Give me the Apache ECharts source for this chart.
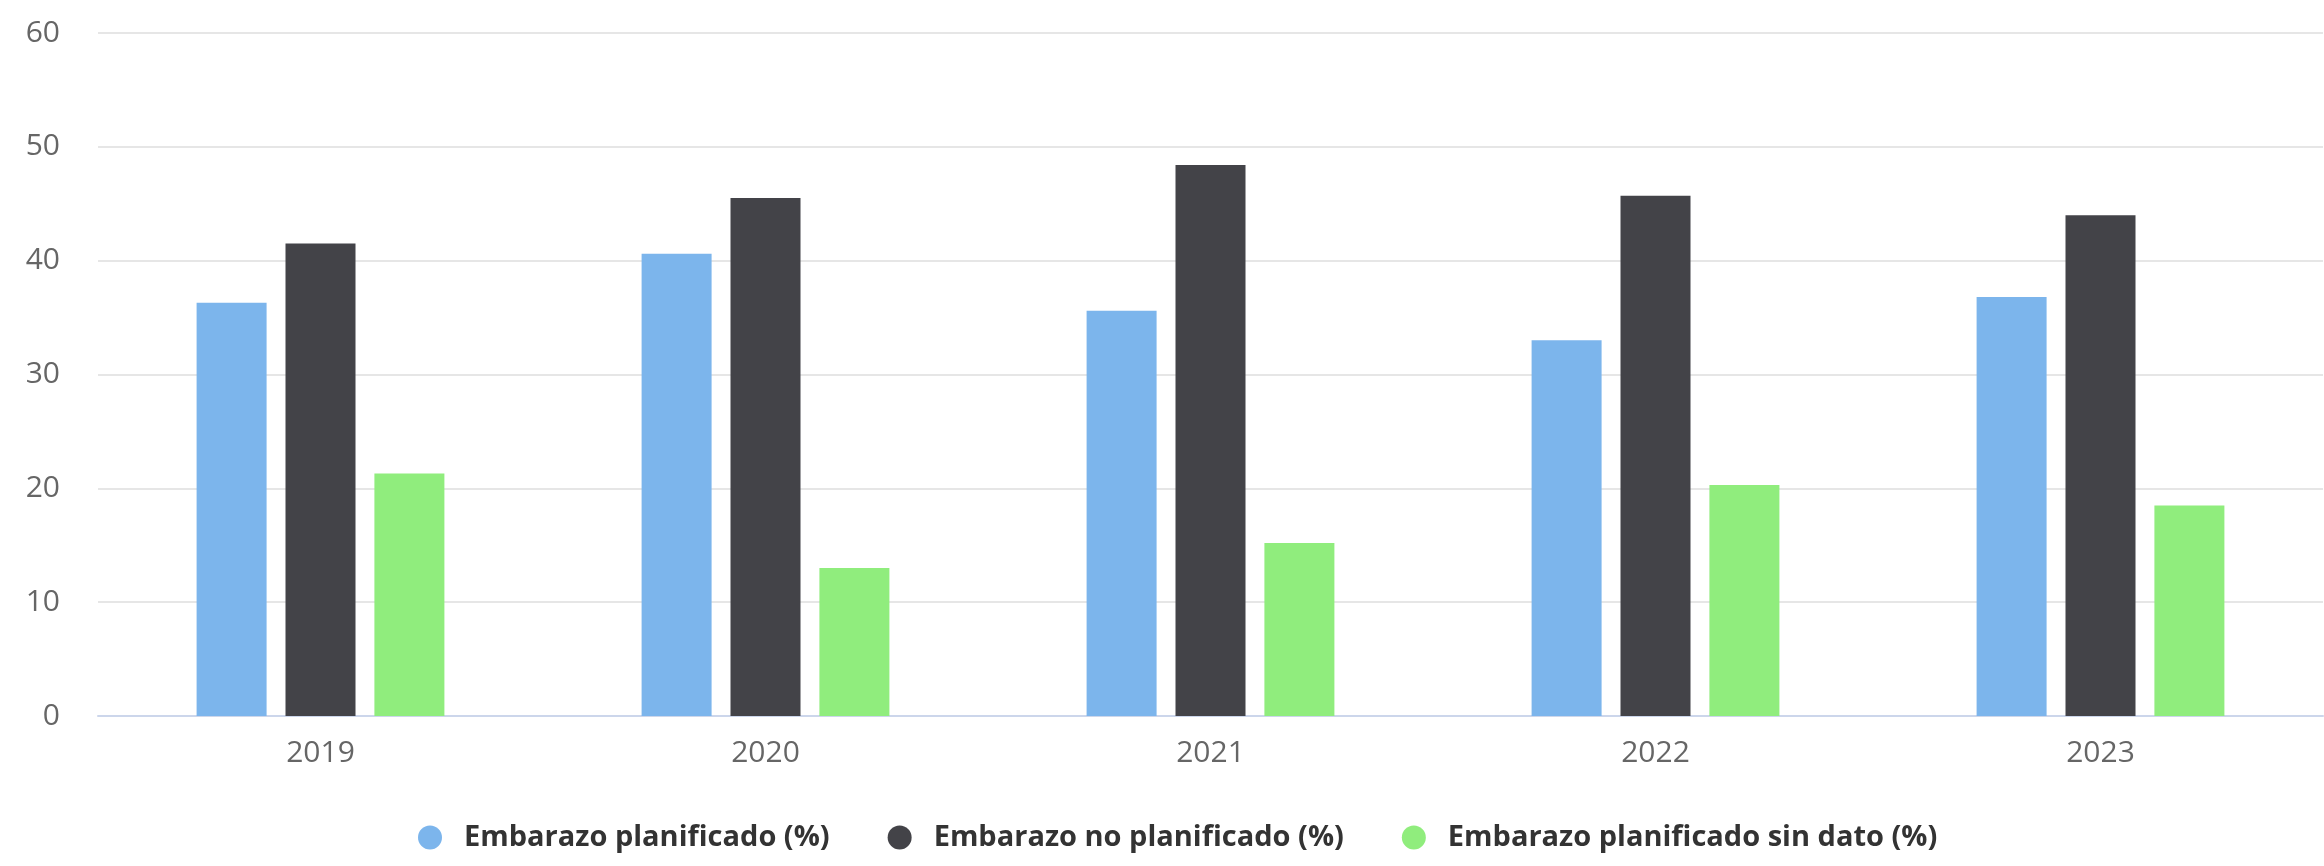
<!DOCTYPE html>
<html>
<head>
<meta charset="utf-8">
<script src="https://cdn.jsdelivr.net/npm/echarts@6/dist/echarts.min.js"></script>
<style>
html,body{margin:0;padding:0;background:#fff;}
#chart{width:2324px;height:866px;}
</style>
</head>
<body>
<div id="chart"></div>
<script>
const categories = ['2019', '2020', '2021', '2022', '2023'];
const seriesNames = ['Embarazo planificado (%)', 'Embarazo no planificado (%)', 'Embarazo planificado sin dato (%)'];
const planificado = [36.3, 40.6, 35.6, 33.0, 36.8];
const noPlanificado = [41.5, 45.5, 48.4, 45.7, 44.0];
const sinDato = [21.3, 13.0, 15.2, 20.3, 18.5];
const yTicks = { min: 0, max: 60, interval: 10 };
const colors = ['#7cb5ec', '#434348', '#90ed7d'];

const chart = echarts.init(document.getElementById('chart'));
const values = [planificado, noPlanificado, sinDato];
chart.setOption({
  animation: false,
  backgroundColor: '#ffffff',
  textStyle: { fontFamily: 'Open Sans' },
  grid: { left: 98, right: 1, top: 33, bottom: 150, containLabel: false },
  legend: {
    bottom: 9,
    left: 413,
    icon: 'circle',
    itemWidth: 24,
    itemHeight: 24,
    itemGap: 58,
    textStyle: { fontFamily: 'Open Sans', fontSize: 29, fontWeight: 'bold', color: '#333333', padding: [0, 0, 0, 17] },
    data: seriesNames
  },
  xAxis: {
    type: 'category',
    data: categories,
    axisLine: { lineStyle: { color: '#ccd6eb', width: 2 } },
    axisTick: { show: false },
    axisLabel: { color: '#666666', fontSize: 30, margin: 22, fontFamily: 'Open Sans' },
    splitLine: { show: false }
  },
  yAxis: {
    type: 'value',
    min: yTicks.min,
    max: yTicks.max,
    interval: yTicks.interval,
    axisLine: { show: false },
    axisTick: { show: false },
    axisLabel: { color: '#666666', fontSize: 30, margin: 38, fontFamily: 'Open Sans' },
    splitLine: { lineStyle: { color: '#e6e6e6', width: 2 } }
  },
  series: seriesNames.map((name, i) => ({
    name: name,
    type: 'bar',
    data: values[i],
    barWidth: 70,
    barGap: '27%',
    itemStyle: { color: colors[i] }
  }))
});
</script>
</body>
</html>
